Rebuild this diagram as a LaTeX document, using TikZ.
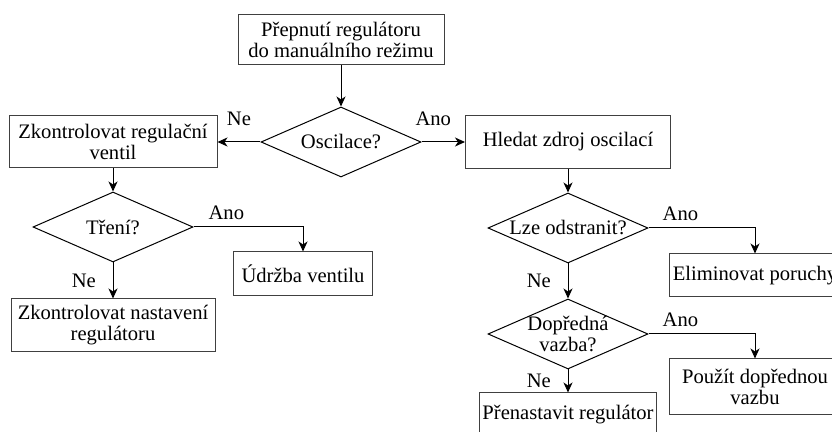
\documentclass[tikz,border=0pt]{standalone}
\usepackage{fontspec}
\setmainfont{Liberation Serif}
\usetikzlibrary{shapes.geometric,arrows.meta}
\begin{document}
\begin{tikzpicture}[x=0.5pt,y=-0.5pt,font=\fontsize{10.3}{10.5}\selectfont,line width=0.5pt,
  box/.style={draw=black!75,align=center,inner sep=1pt},
  dec/.style={diamond,draw,shape aspect=2.3,minimum width=80pt,minimum height=35pt,inner sep=-4pt,align=center},
  arr/.style={-{Stealth[length=5pt,width=4.5pt,inset=1.5pt]}}]
\useasboundingbox (0,0) rectangle (832,432);
\node[box,minimum width=103pt,minimum height=25pt] (man) at (341,40) {Přepnutí regulátoru\\do manuálního režimu};
\node[dec] (osc) at (341,142) {Oscilace?};
\node[box,minimum width=104pt,minimum height=26pt] (zrv) at (113,142) {Zkontrolovat regulační\\ventil};
\node[box,minimum width=102.5pt,minimum height=26.5pt] (hzo) at (568,142) {Hledat zdroj oscilací};
\node[dec] (tre) at (113,227) {Tření?};
\node[box,minimum width=69.5pt,minimum height=22pt] (udr) at (303,274) {Údržba ventilu};
\node[box,minimum width=102pt,minimum height=26.5pt] (znr) at (113,325.5) {Zkontrolovat nastavení\\regulátoru};
\node[dec] (lze) at (568,228) {Lze odstranit?};
\node[box,minimum width=86pt,minimum height=21.5pt] (eli) at (755,275.5) {Eliminovat poruchy};
\node[dec] (dop) at (568,334) {Dopředná\\vazba?};
\node[box,minimum width=86pt,minimum height=28pt] (pou) at (755,387) {Použít dopřednou\\vazbu};
\node[box,minimum width=88.5pt,minimum height=22pt] (pre) at (568,415) {Přenastavit regulátor};
\draw[arr] (man) -- (osc);
\draw[arr] (osc) -- node[above=4.5pt]{Ne} (zrv);
\draw[arr] (osc) -- node[pos=0.27,above=4.5pt]{Ano} (hzo);
\draw[arr] (zrv) -- (tre);
\draw[arr] (tre.east) -| node[pos=0.15,above]{Ano} (udr.north);
\draw[arr] (tre) -- node[left=5pt]{Ne} (znr);
\draw[arr] (hzo) -- (lze);
\draw[arr] (lze.east) -| node[pos=0.15,above]{Ano} (eli.north);
\draw[arr] (lze) -- node[left=5pt]{Ne} (dop);
\draw[arr] (dop.east) -| node[pos=0.15,above]{Ano} (pou.north);
\draw[arr] (dop) -- node[left=5pt]{Ne} (pre);
\end{tikzpicture}
\end{document}
